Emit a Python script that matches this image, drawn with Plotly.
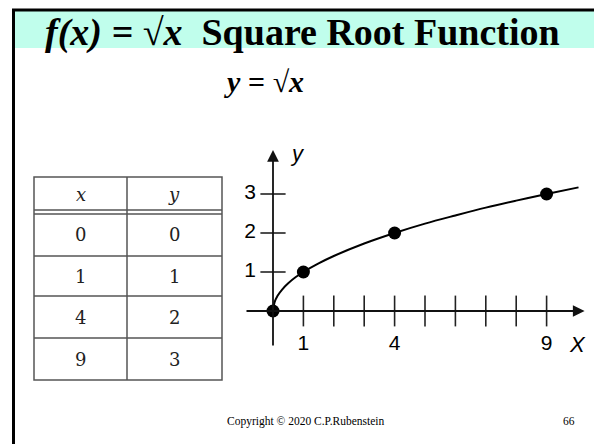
import plotly.graph_objects as go

# ---------------- data ----------------
table_x = ["0", "1", "4", "9"]
table_y = ["0", "1", "2", "3"]
point_x = [0, 1, 4, 9]
point_y = [0, 1, 2, 3]
# curve
curve_x = [0, 0.05, 0.15, 0.3, 0.5, 0.75, 1, 1.5, 2, 3, 4, 5, 6, 7, 8, 9, 10.05]
curve_y = [0, 0.22, 0.39, 0.55, 0.71, 0.87, 1, 1.22, 1.41, 1.73, 2, 2.24, 2.45, 2.65, 2.83, 3, 3.17]
x_ticks = [1, 2, 3, 4, 5, 6, 7, 8, 9]
x_tick_labels = ["1", "4", "9"]
x_label_pos = [1, 4, 9]
y_ticks = [1, 2, 3]
y_tick_labels = ["1", "2", "3"]

# page offset (default body margin) -> figure is drawn 8px in from the window corner
OFF = 8
W, H = 602 - OFF, 444 - OFF
def px(x):
    return (x - OFF) / W
def py(y):
    return 1 - (y - OFF) / H

# chart geometry (window pixels)
OX, UX = 273, 30.4   # origin x pixel, pixels per x unit
OY, UY = 311, 39.0   # origin y pixel, pixels per y unit
DL, DR, DT, DB = 240, 592, 138, 362
xr = [(DL - OX) / UX, (DR - OX) / UX]
yr = [(OY - DB) / UY, (OY - DT) / UY]

fig = go.Figure()

# tick marks
fig.add_trace(go.Scatter(x=x_ticks, y=[0] * len(x_ticks), mode="markers",
                         marker=dict(symbol="line-ns", size=22, line=dict(width=1.6, color="#222")),
                         hoverinfo="skip"))
fig.add_trace(go.Scatter(x=[0] * len(y_ticks), y=y_ticks, mode="markers",
                         marker=dict(symbol="line-ew", size=18, line=dict(width=1.6, color="#222")),
                         hoverinfo="skip"))
# curve
fig.add_trace(go.Scatter(x=curve_x, y=curve_y, mode="lines", line=dict(color="black", width=2),
                         line_shape="spline", hoverinfo="skip"))
# points
fig.add_trace(go.Scatter(x=point_x, y=point_y, mode="markers",
                         marker=dict(color="black", size=13), hoverinfo="skip"))
# tick labels
fig.add_trace(go.Scatter(x=x_label_pos, y=[(OY - 345) / UY] * 3, mode="text", text=x_tick_labels,
                         textfont=dict(family="Liberation Sans", size=21, color="black"),
                         hoverinfo="skip"))
fig.add_trace(go.Scatter(x=[(250 - OX) / UX] * 3, y=y_ticks, mode="text", text=y_tick_labels,
                         textfont=dict(family="Liberation Sans", size=21, color="black"),
                         hoverinfo="skip"))

fig.update_xaxes(range=xr, domain=[px(DL), px(DR)], visible=False, fixedrange=True)
fig.update_yaxes(range=yr, domain=[py(DB), py(DT)], visible=False, fixedrange=True)

annotations = []
def note(**kw):
    kw.setdefault("xanchor", "center")
    kw.setdefault("yanchor", "middle")
    kw.setdefault("showarrow", False)
    annotations.append(kw)

# axes with arrows
note(x=10.25, y=0, ax=(245 - OX) / UX, ay=0, xref="x", yref="y", axref="x", ayref="y",
     text="", showarrow=True, arrowhead=2, arrowsize=1.3, arrowwidth=1.8, arrowcolor="#111")
note(x=0, y=(OY - 150) / UY, ax=0, ay=(OY - 347) / UY, xref="x", yref="y", axref="x", ayref="y",
     text="", showarrow=True, arrowhead=2, arrowsize=1.3, arrowwidth=1.8, arrowcolor="#111")
note(x=(577 - OX) / UX, y=(OY - 344) / UY, xref="x", yref="y", text="<i>X</i>",
     font=dict(family="Liberation Sans", size=22, color="black"))
note(x=(297 - OX) / UX, y=(OY - 153) / UY, xref="x", yref="y", text="<i>y</i>",
     font=dict(family="Liberation Sans", size=22, color="black"))

# title and subtitle
note(x=px(302), y=py(32), xref="paper", yref="paper",
     text="<b><i>f(x) = √x</i>  Square Root Function</b>",
     font=dict(family="Liberation Serif", size=38, color="black"))
note(x=px(264), y=py(82), xref="paper", yref="paper",
     text="<b><i>y = √x</i></b>",
     font=dict(family="Liberation Serif", size=30, color="black"))

# footer
note(x=px(306), y=py(421), xref="paper", yref="paper",
     text="Copyright © 2020 C.P.Rubenstein",
     font=dict(family="Liberation Serif", size=11.5, color="black"))
note(x=px(569), y=py(421), xref="paper", yref="paper",
     text="66", font=dict(family="Liberation Serif", size=11.5, color="black"))

# table
TL, TM, TR = 34, 127, 222
row_lines = [177, 256, 296, 338, 380]
row_centers = [194, 234, 276, 317, 359]
shapes = []
tcol = "#555"
shapes.append(dict(type="rect", xref="paper", yref="paper", x0=px(TL), x1=px(TR), y0=py(177), y1=py(380),
                   line=dict(color=tcol, width=1.5)))
shapes.append(dict(type="line", xref="paper", yref="paper", x0=px(TM), x1=px(TM), y0=py(177), y1=py(380),
                   line=dict(color=tcol, width=1.5)))
for yy in [210, 214]:
    shapes.append(dict(type="line", xref="paper", yref="paper", x0=px(TL), x1=px(TR), y0=py(yy), y1=py(yy),
                       line=dict(color=tcol, width=1.5)))
for yy in row_lines[1:-1]:
    shapes.append(dict(type="line", xref="paper", yref="paper", x0=px(TL), x1=px(TR), y0=py(yy), y1=py(yy),
                       line=dict(color=tcol, width=1.5)))
tfont = dict(family="DejaVu Serif", size=18, color="#222")
note(x=px((TL + TM) / 2), y=py(row_centers[0]), xref="paper", yref="paper", text="<i>x</i>", font=tfont)
note(x=px((TM + TR) / 2), y=py(row_centers[0]), xref="paper", yref="paper", text="<i>y</i>", font=tfont)
for i, (a, b) in enumerate(zip(table_x, table_y)):
    note(x=px((TL + TM) / 2), y=py(row_centers[i + 1]), xref="paper", yref="paper", text=a, font=tfont)
    note(x=px((TM + TR) / 2), y=py(row_centers[i + 1]), xref="paper", yref="paper", text=b, font=tfont)

# header band and frame
shapes.insert(0, dict(type="rect", xref="paper", yref="paper", x0=px(14), x1=px(598), y0=py(48), y1=py(10),
                      fillcolor="#C0FEEC", line=dict(width=0), layer="below"))
frame = dict(color="black", width=3)
shapes.append(dict(type="line", xref="paper", yref="paper", x0=px(12), x1=px(600), y0=py(10), y1=py(10), line=frame))
shapes.append(dict(type="line", xref="paper", yref="paper", x0=px(13.5), x1=px(13.5), y0=py(9), y1=py(445), line=frame))
shapes.append(dict(type="line", xref="paper", yref="paper", x0=px(598.5), x1=px(598.5), y0=py(9), y1=py(445), line=frame))

fig.update_layout(width=W, height=H, margin=dict(l=0, r=0, t=0, b=0), showlegend=False,
                  paper_bgcolor="white", plot_bgcolor="rgba(0,0,0,0)",
                  shapes=shapes, annotations=annotations)

fig.write_html("out.html")
